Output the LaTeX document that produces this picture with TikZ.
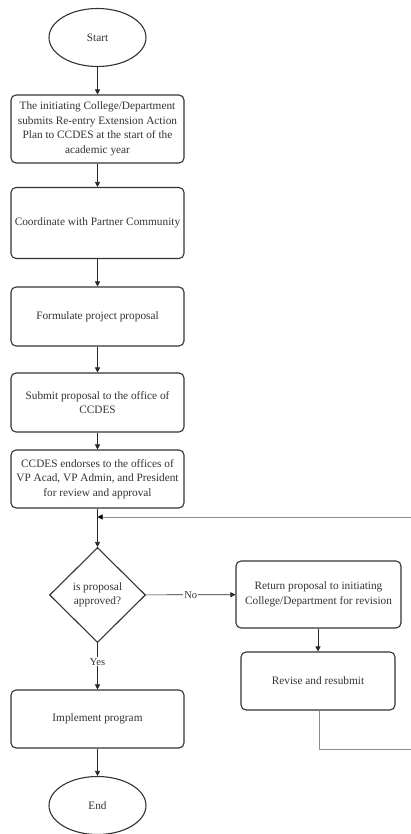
\documentclass[tikz,border=0pt]{standalone}
\usepackage{fontspec}
\setmainfont{Liberation Serif}
\usetikzlibrary{arrows.meta,shapes.geometric}
\begin{document}
\begin{tikzpicture}[x=1pt,y=-1pt,
  every node/.style={font=\fontsize{11.3}{14.5}\selectfont, text=black!80},
  procbox/.style={draw=black!80, line width=1.1pt, rounded corners=5pt, minimum width=173pt, align=center, inner sep=2pt},
  termnode/.style={draw=black!80, line width=1.1pt, ellipse, minimum width=97pt, minimum height=58pt},
  decnode/.style={draw=black!80, line width=1.1pt, diamond, minimum width=96pt, minimum height=95pt, align=center, inner sep=0pt},
  conn/.style={draw=black!85, line width=0.7pt, -{Triangle[length=5pt,width=5pt]}},
  loopline/.style={draw=black!45, line width=1pt},
  looparrow/.style={draw=black!45, line width=1pt, -{Triangle[length=5pt,width=5pt,color=black]}},
  lbl/.style={fill=white, inner sep=1pt, font=\fontsize{10.5}{12}\selectfont}
]
\useasboundingbox (0,0) rectangle (411,834);
\clip (0,0) rectangle (411,834);
\fill[white] (0,0) rectangle (411,834);

\node[termnode] (start) at (97.5,37.5) {Start};
\node[procbox, minimum height=68pt] (plan) at (97.5,129) {The initiating College/Department\\submits Re-entry Extension Action\\Plan to CCDES at the start of the\\academic year};
\node[procbox, minimum height=71pt] (coord) at (97.5,223) {Coordinate with Partner Community};
\node[procbox, minimum height=59pt] (form) at (97.5,316.5) {Formulate project proposal};
\node[procbox, minimum height=59pt] (submit) at (97.5,402.5) {Submit proposal to the office of\\CCDES};
\node[procbox, minimum height=58pt] (endorse) at (97.5,479) {CCDES endorses to the offices of\\VP Acad, VP Admin, and President\\for review and approval};
\node[decnode] (dec) at (97.5,595) {is proposal\\approved?};
\node[procbox, minimum width=165pt, minimum height=67pt] (ret) at (318.5,594.5) {Return proposal to initiating\\College/Department for revision};
\node[procbox, minimum width=154pt, minimum height=58pt] (rev) at (318,681) {Revise and resubmit};
\node[procbox, minimum height=58pt] (impl) at (97.5,719) {Implement program};
\node[termnode] (end) at (97.5,805.5) {End};

\coordinate (junc) at (97.5,517);
\coordinate (loopA) at (319,749);
\coordinate (loopB) at (416,749);
\coordinate (loopC) at (416,517);

\draw[conn] (start) -- (plan);
\draw[conn] (plan) -- (coord);
\draw[conn] (coord) -- (form);
\draw[conn] (form) -- (submit);
\draw[conn] (submit) -- (endorse);
\draw[conn] (endorse) -- (dec);
\draw[conn] (dec) -- node[lbl]{No} (ret);
\draw[conn] (dec) -- node[lbl, pos=0.4]{Yes} (impl);
\draw[conn] (ret.south -| rev.north) -- (rev.north);
\draw[conn] (impl) -- (end);
\draw[loopline] (rev.south -| loopA) -- (loopA) -- (loopB) -- (loopC);
\draw[looparrow] (loopC) -- (junc);
\end{tikzpicture}
\end{document}
